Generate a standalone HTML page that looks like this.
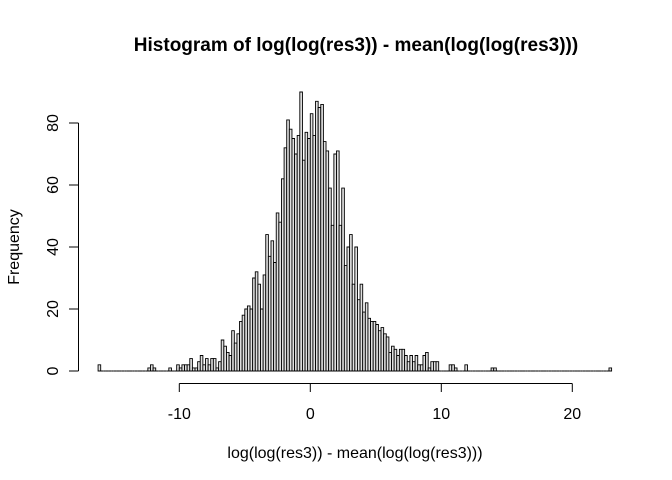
<!DOCTYPE html>
<html><head><meta charset="utf-8"><style>
body{margin:0;background:#fff}
svg{display:block;font-family:"Liberation Sans",Arial,sans-serif}
</style></head><body>
<svg id="chart" width="672" height="480" viewBox="0 0 672 480">
<text x="356" y="51" text-anchor="middle" font-size="19" font-weight="bold">Histogram of log(log(res3)) - mean(log(log(res3)))</text>
<text x="355" y="458" text-anchor="middle" font-size="16">log(log(res3)) - mean(log(log(res3)))</text>
<text transform="translate(19,247) rotate(-90)" text-anchor="middle" font-size="16">Frequency</text>
<g id="bars"></g>
<g id="xaxis"></g>
<g id="yaxis"></g>
</svg>
<script>
const binStart = -16.2;
const binWidth = 0.2;
const counts = [2,0,0,0,0,0,0,0,0,0, 0,0,0,0,0,0,0,0,0,1, 2,1,0,0,0,0,0,1,0,0,
2,1,2,2,2,4,1,1,3,5, 2,4,2,4,4,1,3,10,8,6, 5,13,9,12,16,18,20,21,20,30,
32,28,20,31,44,37,42,35,51,48, 62,72,81,78,75,70,76,90,68,77, 75,83,76,87,85,86,74,71,59,47,
70,71,47,59,34,40,44,28,40,23, 28,19,22,17,16,16,15,13,14,12, 11,6,8,7,5,7,7,5,3,5,
3,5,2,2,5,6,1,3,3,3, 0,0,0,0,2,2,1,0,0,0, 2,0,0,0,0,0,0,0,0,0,
1,1,0,0,0,0,0,0,0,0, 0,0,0,0,0,0,0,0,0,0, 0,0,0,0,0,0,0,0,0,0,
0,0,0,0,0,0,0,0,0,0, 0,0,0,0,0,1];
const xTicks = [-10, 0, 10, 20];
const yTicks = [0, 20, 40, 60, 80];

const NS = "http://www.w3.org/2000/svg";
function xs(v){ return 310.3 + v * 13.1; }
function ys(c){ return 371 - c * 3.1; }

const bars = document.getElementById('bars');
counts.forEach((c, i) => {
  const x0 = xs(binStart + i * binWidth), x1 = xs(binStart + (i + 1) * binWidth);
  const y0 = ys(0), y1 = ys(c);
  const p = document.createElementNS(NS, 'path');
  p.setAttribute('d', 'M' + x0 + ',' + y0 + 'L' + x0 + ',' + y1 + 'L' + x1 + ',' + y1 + 'L' + x1 + ',' + y0 + 'Z');
  p.setAttribute('fill', '#e0e0e0'); p.setAttribute('stroke', '#000'); p.setAttribute('stroke-width', '0.9');
  
  
  bars.appendChild(p);
});

const xa = document.getElementById('xaxis');
function line(g, x1, y1, x2, y2){
  const l = document.createElementNS(NS, 'line');
  l.setAttribute('x1', x1); l.setAttribute('y1', y1); l.setAttribute('x2', x2); l.setAttribute('y2', y2);
  l.setAttribute('stroke', '#000'); l.setAttribute('stroke-width', '1');
  g.appendChild(l);
}
line(xa, xs(xTicks[0]), 383.5, xs(xTicks[xTicks.length - 1]), 383.5);
xTicks.forEach(t => {
  line(xa, xs(t), 383.5, xs(t), 392);
  const tx = document.createElementNS(NS, 'text');
  tx.setAttribute('x', xs(t)); tx.setAttribute('y', 419);
  tx.setAttribute('text-anchor', 'middle'); tx.setAttribute('font-size', '16');
  tx.textContent = t;
  
  
  xa.appendChild(tx);
});

const ya = document.getElementById('yaxis');
line(ya, 78.5, ys(yTicks[0]), 78.5, ys(yTicks[yTicks.length - 1]));
yTicks.forEach(t => {
  line(ya, 69, ys(t), 78.5, ys(t));
  const tx = document.createElementNS(NS, 'text');
  tx.setAttribute('transform', 'translate(58,' + ys(t) + ') rotate(-90)');
  tx.setAttribute('text-anchor', 'middle'); tx.setAttribute('font-size', '16');
  tx.textContent = t;
  
  
  ya.appendChild(tx);
});
</script>
</body></html>
